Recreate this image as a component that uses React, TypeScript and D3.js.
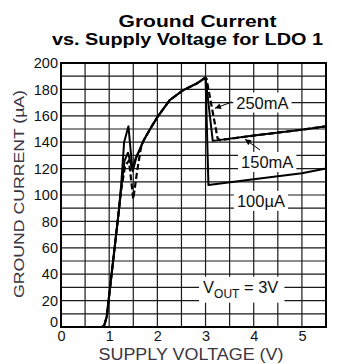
import React, { useRef, useEffect } from 'react';
import * as d3 from 'd3';

// axis ticks
const xTicks = [0, 1, 2, 3, 4, 5];
const yTicks = [0, 20, 40, 60, 80, 100, 120, 140, 160, 180, 200];

// [supply voltage (V), ground current (uA)]
const riseStart = [[0, 0], [0.85, 0], [0.9, 1.5], [0.95, 8], [1.05, 40], [1.15, 72], [1.2, 88]];
const upperShared = [[1.71, 141], [1.85, 150], [2.0, 159], [2.26, 172], [2.54, 179.5], [2.82, 184.5], [2.98, 188.5]];

const curve100uA = [...riseStart, [1.25, 108], [1.31, 140], [1.4, 152], [1.48, 120], [1.55, 128], [1.64, 135],
    ...upperShared, [3.0, 189], [3.06, 107.5], [4.0, 112], [5.0, 116.5], [5.5, 120]];
const curve150mA = [...riseStart, [1.25, 106], [1.32, 126], [1.39, 132], [1.49, 118], [1.56, 128], [1.64, 135],
    ...upperShared, [3.0, 189], [3.15, 141], [4.0, 145], [5.0, 149.5], [5.5, 152]];
const curve250mA = [...riseStart, [1.25, 104], [1.33, 122], [1.41, 126], [1.5, 97], [1.58, 118], [1.66, 136],
    ...upperShared, [3.02, 188], [3.25, 143], [3.3, 141.5], [4.0, 145], [5.0, 149.5], [5.5, 152]];

// annotations (data units)
const labelText = ['250mA', '150mA', '100\u00b5A'];
const labelV = [4.18, 4.28, 4.15];
const labelI = [170, 125, 95.5];
const arrowFrom = [[3.55, 170.5], [4.13, 134.1]];
const arrowTo = [[3.195, 165.7], [3.82, 142.2]];

const FONT = 'Liberation Sans, Arial, Helvetica, sans-serif';

const App = () => {
    const ref = useRef();

    useEffect(() => {
        const svg = d3.select(ref.current);
        svg.selectAll('*').remove();

        const left = 61, right = 326, top = 63, bottom = 327;
        const x = d3.scaleLinear().domain([0, 5.5]).range([left, right]);
        const y = d3.scaleLinear().domain([0, 200]).range([bottom, top]);

        svg.append('defs').append('marker')
            .attr('id', 'arrow')
            .attr('viewBox', '0 0 10 10')
            .attr('refX', 10).attr('refY', 5)
            .attr('markerUnits', 'userSpaceOnUse')
            .attr('markerWidth', 8).attr('markerHeight', 6)
            .attr('orient', 'auto')
            .append('path').attr('d', 'M0,0 L10,5 L0,10 z').attr('fill', '#000');

        // title
        svg.append('text')
            .attr('x', 197.5).attr('y', 27)
            .attr('text-anchor', 'middle')
            .attr('font-family', FONT).attr('font-weight', 'bold').attr('font-size', 16.5)
            .attr('textLength', 158).attr('lengthAdjust', 'spacingAndGlyphs')
            .text('Ground Current');
        svg.append('text')
            .attr('x', 187.5).attr('y', 45)
            .attr('text-anchor', 'middle')
            .attr('font-family', FONT).attr('font-weight', 'bold').attr('font-size', 16.5)
            .attr('textLength', 271).attr('lengthAdjust', 'spacingAndGlyphs')
            .text('vs. Supply Voltage for LDO 1');

        // grid
        const grid = svg.append('g').attr('stroke', '#1a1a1a').attr('stroke-width', 1.2);
        grid.selectAll('.v').data(d3.range(0, 5.51, 0.5)).enter().append('line')
            .attr('x1', d => x(d)).attr('x2', d => x(d)).attr('y1', top).attr('y2', bottom);
        grid.selectAll('.h').data(d3.range(0, 201, 10)).enter().append('line')
            .attr('y1', d => y(d)).attr('y2', d => y(d)).attr('x1', left).attr('x2', right);

        // tick labels
        const yAxis = svg.append('g')
            .attr('transform', `translate(${left},0)`)
            .call(d3.axisLeft(y).tickValues(yTicks).tickSize(0).tickPadding(3));
        yAxis.select('.domain').remove();
        yAxis.selectAll('text')
            .attr('font-family', FONT).attr('font-size', 14.5).attr('fill', '#111')
            .attr('y', d => (d === 0 ? -5 : 0));

        const xAxis = svg.append('g')
            .attr('transform', `translate(0,${bottom})`)
            .call(d3.axisBottom(x).tickValues(xTicks).tickFormat(d3.format('d')).tickSize(0).tickPadding(4));
        xAxis.select('.domain').remove();
        xAxis.selectAll('text')
            .attr('font-family', FONT).attr('font-size', 14.5).attr('fill', '#111');

        // axis titles
        svg.append('text')
            .attr('transform', 'translate(24,194) rotate(-90)')
            .attr('text-anchor', 'middle')
            .attr('font-family', FONT).attr('font-size', 15.5).attr('fill', '#3a3540')
            .attr('textLength', 208).attr('lengthAdjust', 'spacingAndGlyphs')
            .text('GROUND CURRENT (\u00b5A)');
        svg.append('text')
            .attr('x', 191).attr('y', 360)
            .attr('text-anchor', 'middle')
            .attr('font-family', FONT).attr('font-size', 16).attr('fill', '#3a3540')
            .attr('textLength', 185).attr('lengthAdjust', 'spacingAndGlyphs')
            .text('SUPPLY VOLTAGE (V)');

        // label boxes + text
        const labels = svg.append('g');
        labelText.forEach((t, i) => {
            const txt = labels.append('text')
                .attr('x', x(labelV[i])).attr('y', y(labelI[i]))
                .attr('dy', '0.36em')
                .attr('text-anchor', 'middle')
                .attr('font-family', FONT).attr('font-size', 16.5).attr('fill', '#111')
                .text(t);
            const b = txt.node().getBBox();
            labels.insert('rect', 'text')
                .attr('x', b.x - 3).attr('y', b.y - 1)
                .attr('width', b.width + 6).attr('height', b.height + 2)
                .attr('fill', '#fff');
        });

        const vout = labels.append('text')
            .attr('x', x(3.73)).attr('y', y(30.5))
            .attr('dy', '0.36em')
            .attr('text-anchor', 'middle')
            .attr('font-family', FONT).attr('font-size', 16.5).attr('fill', '#111');
        vout.append('tspan').text('V');
        vout.append('tspan').attr('dy', 5).attr('font-size', 12).text('OUT');
        vout.append('tspan').attr('dy', -5).text(' = 3V');
        const vb = vout.node().getBBox();
        labels.insert('rect', 'text')
            .attr('x', vb.x - 4).attr('y', vb.y - 1)
            .attr('width', vb.width + 10).attr('height', vb.height + 3)
            .attr('fill', '#fff');

        // frame
        svg.append('rect')
            .attr('x', left).attr('y', top)
            .attr('width', right - left).attr('height', bottom - top)
            .attr('fill', 'none').attr('stroke', '#000').attr('stroke-width', 2);

        // curves
        const line = d3.line().x(d => x(d[0])).y(d => y(d[1]));
        [curve100uA, curve150mA].forEach(c => {
            svg.append('path')
                .datum(c)
                .attr('fill', 'none').attr('stroke', '#000')
                .attr('stroke-width', 2).attr('stroke-linejoin', 'round')
                .attr('d', line);
        });
        svg.append('path')
            .datum(curve250mA)
            .attr('fill', 'none').attr('stroke', '#000')
            .attr('stroke-width', 2.2).attr('stroke-dasharray', '6,3')
            .attr('d', line);

        // arrows
        arrowFrom.forEach((f, i) => {
            svg.append('line')
                .attr('x1', x(f[0])).attr('y1', y(f[1]))
                .attr('x2', x(arrowTo[i][0])).attr('y2', y(arrowTo[i][1]))
                .attr('stroke', '#000').attr('stroke-width', 1)
                .attr('marker-end', 'url(#arrow)');
        });
    }, []);

    return (
        <svg ref={ref} width={340} height={364}
            style={{ position: 'absolute', left: 0, top: 0, background: '#fff' }}></svg>
    );
};

export default App;
